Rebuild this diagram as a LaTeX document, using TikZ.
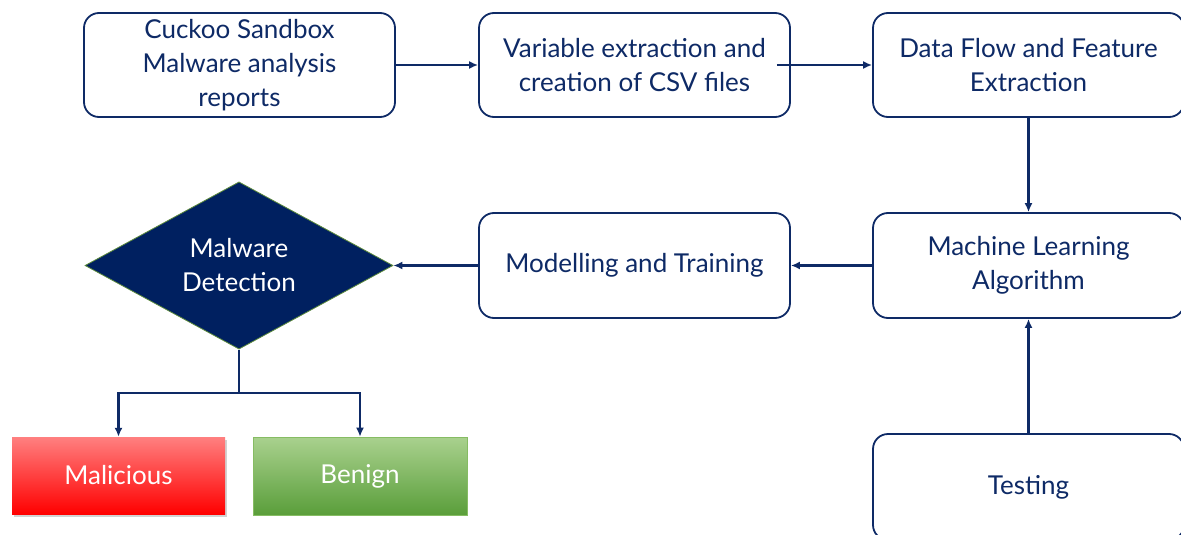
\documentclass[tikz,border=0pt]{standalone}
\usepackage{fontspec}
\setmainfont{Lato}
\usetikzlibrary{shapes.geometric,arrows.meta,shadows}
\definecolor{navy}{HTML}{0E2A66}
\definecolor{dianavy}{HTML}{002060}
\definecolor{diaedge}{HTML}{5C8A3C}
\definecolor{redtop}{HTML}{FF8080}
\definecolor{redbot}{HTML}{FF0000}
\definecolor{grtop}{HTML}{A9D18E}
\definecolor{grmid}{HTML}{92D050}
\definecolor{grbot}{HTML}{5A9E3A}
\definecolor{gredge}{HTML}{86BC63}
\begin{document}
\begin{tikzpicture}[x=1pt,y=-1pt,
  box/.style={draw=navy, line width=1.8pt, rounded corners=15pt, fill=white,
    minimum width=311pt, minimum height=104pt, align=center, text=navy,
    font=\fontsize{26}{34}\selectfont, inner sep=0pt},
  conn/.style={draw=navy, line width=2.2pt, -{Latex[length=9pt,width=8pt]}},
  res/.style={minimum width=213pt, minimum height=77pt, text=white,
    font=\fontsize{26}{34}\selectfont, inner sep=0pt}
]
\useasboundingbox (0,0) rectangle (1181,535);
\clip (0,0) rectangle (1181,535);
\fill[white] (0,0) rectangle (1181,535);

\node[box] (b1) at (239.5,65) {Cuckoo Sandbox\\Malware analysis\\reports};
\node[box] (b2) at (634.5,65) {Variable extraction and\\creation of CSV files};
\node[box] (b3) at (1028.5,65) {Data Flow and Feature\\Extraction};
\node[box, minimum height=105pt] (ml) at (1028.5,265.5) {Machine Learning\\Algorithm};
\node[box, minimum height=105pt] (mt) at (634.5,265.5) {Modelling and Training};
\node[box, minimum height=106pt] (ts) at (1028.5,487) {Testing};

\node[diamond, fill=dianavy, draw=diaedge, line width=0.8pt, minimum width=308pt,
  minimum height=165pt, inner sep=0pt, align=center, text=white,
  font=\fontsize{26}{34}\selectfont] (dd) at (239,265.5) {Malware\\Detection};

\node[res, top color=redtop, bottom color=redbot,
  drop shadow={opacity=0.35, shadow xshift=2pt, shadow yshift=-3pt}] (mal) at (118.5,475.5) {Malicious};
\node[res, draw=gredge, line width=0.6pt, top color=grtop, middle color=grmid, bottom color=grbot,
  minimum width=214pt, minimum height=78pt] (ben) at (360,476) {Benign};

\coordinate (split) at (239,393);

\draw[conn] (b1.east) -- (b2.west);
\draw[conn] ([xshift=-14pt]b2.east) -- (b3.west);
\draw[conn] (b3.south) -- (ml.north);
\draw[conn] (ml.west) -- (mt.east);
\draw[conn] (mt.west) -- (dd.east);
\draw[conn] (ts.north) -- (ml.south);
\draw[draw=navy, line width=2.2pt] (dd.south) -- (split);
\draw[conn] (split) -| (mal.north);
\draw[conn] (split) -| (ben.north);
\end{tikzpicture}
\end{document}
